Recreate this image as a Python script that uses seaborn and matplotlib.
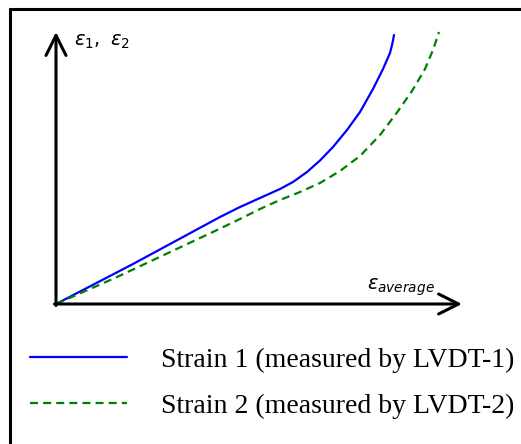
import matplotlib
matplotlib.use("Agg")
import matplotlib.pyplot as plt
from matplotlib.lines import Line2D
import seaborn as sns
import pandas as pd

# Strain read by each LVDT against the average strain (arbitrary units)
strain1_avg = [0, 27, 77, 127, 164, 184, 204, 224, 237, 251, 264, 277, 291,
               304, 317, 327, 334, 336.5, 338]
strain1_val = [0, 14, 40, 67, 87, 97, 106, 115, 122, 132, 143.5, 157, 174,
               192, 215, 235, 251, 261, 269]
strain2_avg = [0, 61, 127, 159, 184, 204, 224, 244, 264, 284, 304, 324,
               341, 356, 369, 377, 383]
strain2_val = [0, 27, 58, 73, 85, 95, 104, 112, 121, 133, 148, 169,
               191.5, 213, 235, 254, 272]

labels = ["Strain 1 (measured by LVDT-1)", "Strain 2 (measured by LVDT-2)"]
x_label = r"$\varepsilon_{\mathit{average}}$"
y_label = r"$\varepsilon_1,\ \varepsilon_2$"

df1 = pd.DataFrame({"avg": strain1_avg, "val": strain1_val})
df2 = pd.DataFrame({"avg": strain2_avg, "val": strain2_val})

sns.set_style("white")
plt.rcParams["mathtext.fontset"] = "dejavusans"
plt.rcParams["text.color"] = "black"

W, H = 521, 444
fig = plt.figure(figsize=(W / 100, H / 100), dpi=100)
ax = fig.add_axes([0, 0, 1, 1])
ax.set_xlim(-56, W - 56)
ax.set_ylim(304 - H, 304)
ax.axis("off")

dash = (0, (3.6, 2.3))
sns.lineplot(data=df1, x="avg", y="val", ax=ax, color="#0000ff", lw=1.6,
             sort=False, label=labels[0])
sns.lineplot(data=df2, x="avg", y="val", ax=ax, color="#008000", lw=1.6,
             sort=False, label=labels[1])
ax.lines[1].set_linestyle(dash)
for ln in ax.lines:
    ln.set_solid_joinstyle("round")
    ln.set_dash_joinstyle("round")

# Axes drawn as arrows from the origin
head = dict(arrowstyle="->,head_length=0.72,head_width=0.36", lw=2.2,
            color="black", mutation_scale=20, shrinkA=0, shrinkB=0)
ax.annotate("", xy=(0, 272), xytext=(0, -1.5), arrowprops=head)
ax.annotate("", xy=(406, 0), xytext=(-1.5, 0), arrowprops=head)

ax.text(18, 262, y_label, fontsize=14, ha="left", va="center", color="black")
ax.text(311, 17, x_label, fontsize=14, ha="left", va="center", color="black")

leg = ax.legend(loc="center left", bbox_to_anchor=(30 / W, 1 - 383 / H),
                frameon=False, prop={"family": "Liberation Serif", "size": 20},
                handlelength=3.5, handletextpad=1.22, labelspacing=0.74,
                borderpad=0, borderaxespad=0)
for t in leg.get_texts():
    t.set_color("black")
for h in leg.get_lines():
    h.set_linewidth(1.6)
leg.get_lines()[1].set_linestyle(dash)

# Outer frame (left and top edges)
fig.add_artist(Line2D([10 / W, 10 / W], [0, 1 - 9 / H], color="black", lw=2.2,
                      transform=fig.transFigure))
fig.add_artist(Line2D([10 / W, 1], [1 - 9 / H, 1 - 9 / H], color="black", lw=2.2,
                      transform=fig.transFigure))

fig.savefig("out.png", dpi=100, facecolor="white")
